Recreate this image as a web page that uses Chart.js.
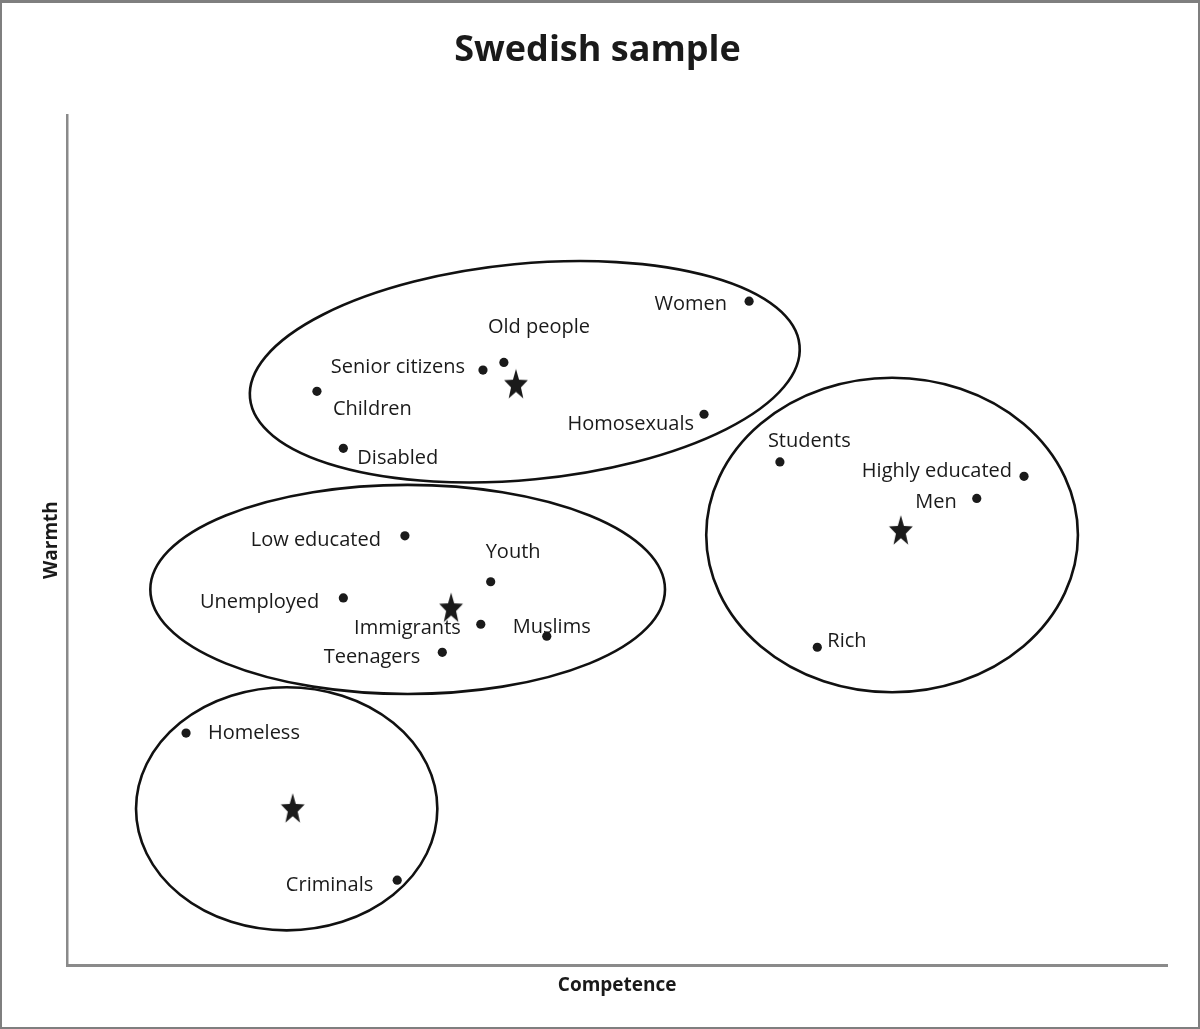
<!DOCTYPE html>
<html><head><meta charset="utf-8">
<script src="https://cdn.jsdelivr.net/npm/chart.js@4/dist/chart.umd.min.js"></script>
<style>
html,body{margin:0;padding:0;background:#fff;overflow:hidden;}
#wrap{position:relative;width:1200px;height:1029px;}
#c{display:block;width:1200px;height:1029px;}
#frame{position:absolute;left:0;top:0;right:0;bottom:0;border:2px solid #7f7f7f;border-top-width:3px;box-sizing:border-box;pointer-events:none;}
</style></head><body>
<div id="wrap"><canvas id="c" width="1200" height="1029"></canvas><div id="frame"></div></div>
<script>
// ---- data ----
const groupNames = ["Women","Old people","Senior citizens","Children","Homosexuals","Disabled",
  "Students","Highly educated","Men","Rich",
  "Low educated","Youth","Unemployed","Immigrants","Muslims","Teenagers",
  "Homeless","Criminals"];
const competence = [62.0,39.7,37.8,22.7,57.9,25.1, 64.8,87.0,82.7,68.2, 30.7,38.5,25.1,37.6,43.6,34.1, 10.8,30.0];
const warmth     = [78.1,70.9,70.0,67.5,64.8,60.8, 59.2,57.5,54.9,37.4, 50.5,45.1,43.2,40.1,38.7,36.8, 27.3,10.0];
const clusterCompetence = [40.8,75.8,34.9,20.5];
const clusterWarmth     = [68.4,51.2,42.1,18.5];
const ellipseCompetence = [41.6,75.0,30.95,19.95];
const ellipseWarmth     = [69.8,50.6,44.2,18.4];
const ellipseSpanCompetence = [25.1,16.9,23.4,13.7];
const ellipseSpanWarmth     = [12.7,18.5,12.3,14.3];

// ---- styles / label placement (pixels) ----
const ellipseTilt = [-5.5,0,0,0];
const labelAlign = ["right","left","right","left","right","left",
  "left","right","right","left",
  "right","left","right","right","left","right",
  "left","right"];
const labelDX = [-22,-16,-18,16,-10,14, -12,-12,-20,10, -24,-5,-24,-20,-34,-22, 22,-24];
const labelDY = [3,-35,-3,18,10,10, -21,-5,4,-6, 4,-29,4,4,-9,5, 0,5];

const FONT = "'Open Sans', 'Noto Sans', sans-serif";
const INK = '#1a1a1a';

function makeStar(){
  const w=28,h=36;
  const c=document.createElement('canvas'); c.width=w; c.height=h;
  const g=c.getContext('2d'); g.fillStyle=INK;
  const R=12.5, r=5.2, sy=1.3;
  const cx=w/2, cy=h/2 + 0.0955*R*sy;
  g.beginPath();
  for(let k=0;k<10;k++){
    const ang=-Math.PI/2 + k*Math.PI/5;
    const rad = (k%2===0)?R:r;
    const px=cx+rad*Math.cos(ang), py=cy+rad*Math.sin(ang)*sy;
    if(k===0) g.moveTo(px,py); else g.lineTo(px,py);
  }
  g.closePath(); g.fill();
  return c;
}

const ellipsePlugin = {
  id:'ellipses',
  beforeDatasetsDraw(chart){
    const {ctx, scales:{x,y}} = chart;
    ctx.save();
    ctx.strokeStyle='#111'; ctx.lineWidth=2.6;
    for(let i=0;i<ellipseCompetence.length;i++){
      const cx=x.getPixelForValue(ellipseCompetence[i]);
      const cy=y.getPixelForValue(ellipseWarmth[i]);
      const rx=Math.abs(x.getPixelForValue(ellipseCompetence[i]+ellipseSpanCompetence[i])-cx);
      const ry=Math.abs(y.getPixelForValue(ellipseWarmth[i]+ellipseSpanWarmth[i])-cy);
      ctx.beginPath();
      ctx.ellipse(cx,cy,rx,ry,ellipseTilt[i]*Math.PI/180,0,Math.PI*2);
      ctx.stroke();
    }
    ctx.restore();
  }
};

const labelPlugin = {
  id:'pointLabels',
  afterDatasetsDraw(chart){
    const {ctx} = chart;
    const meta = chart.getDatasetMeta(0);
    ctx.save();
    ctx.font = "20px " + FONT;
    ctx.fillStyle = INK;
    ctx.textBaseline = 'middle';
    meta.data.forEach((pt,i)=>{
      ctx.textAlign = labelAlign[i];
      ctx.fillText(groupNames[i], pt.x+labelDX[i], pt.y+labelDY[i]);
    });
    ctx.restore();
  }
};

new Chart(document.getElementById('c'), {
  type:'scatter',
  data:{
    datasets:[
      { label:'Groups',
        data: competence.map((v,i)=>({x:v, y:warmth[i]})),
        pointRadius:4.6, pointHoverRadius:4.6, pointBackgroundColor:INK, pointBorderWidth:0 },
      { label:'Cluster centres',
        data: clusterCompetence.map((v,i)=>({x:v, y:clusterWarmth[i]})),
        pointStyle: makeStar(), pointRadius:12 }
    ]
  },
  options:{
    responsive:false, animation:false, devicePixelRatio:1,
    layout:{padding:{left:28, right:33, top:0, bottom:32}},
    plugins:{
      legend:{display:false}, tooltip:{enabled:false},
      title:{display:true, text:'Swedish sample', color:INK,
        font:{family:FONT, size:36, weight:'bold', lineHeight:1.2},
        padding:{top:29, bottom:42.8}}
    },
    scales:{
      x:{type:'linear', min:0, max:100,
        grid:{display:false, drawTicks:false, tickLength:0},
        ticks:{display:false},
        border:{color:'#8a8a8a', width:3},
        title:{display:true, text:'Competence', color:INK,
          font:{family:FONT, size:19, weight:'bold', lineHeight:1.2},
          padding:{top:9, bottom:0}}},
      y:{type:'linear', min:0, max:100,
        grid:{display:false, drawTicks:false, tickLength:0},
        ticks:{display:false},
        border:{color:'#8a8a8a', width:2.5},
        title:{display:true, text:'Warmth', color:INK,
          font:{family:FONT, size:19, weight:'bold', lineHeight:1.2},
          padding:{top:12.5, bottom:4}}}
    }
  },
  plugins:[ellipsePlugin, labelPlugin]
});
</script>
</body></html>
